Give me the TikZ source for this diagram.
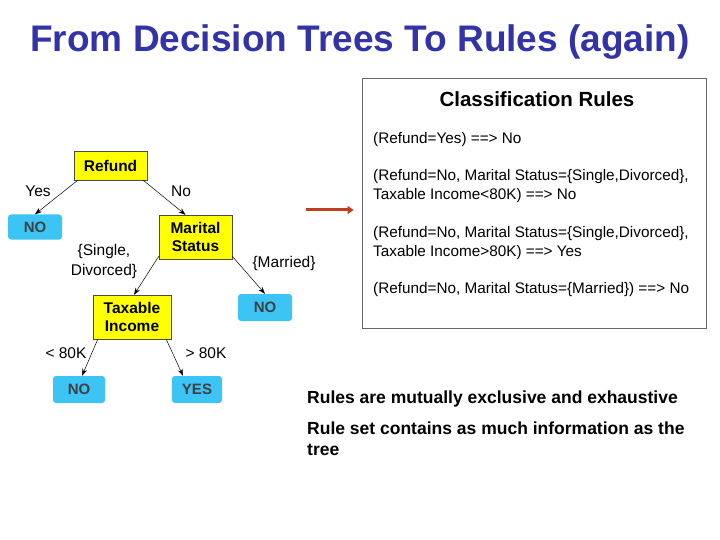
\documentclass[tikz,border=0pt]{standalone}
\usepackage{fontspec}
\setmainfont{Liberation Sans}
\usetikzlibrary{arrows.meta}
\definecolor{ttl}{HTML}{3333A8}
\definecolor{leaf}{HTML}{3CC4F4}
\definecolor{dec}{HTML}{FFFF00}
\definecolor{red1}{HTML}{C0401E}
\begin{document}
\begin{tikzpicture}[x=1pt,y=-1pt,
 decn/.style={draw=black!70,fill=dec,font=\bfseries\fontsize{15.5}{18}\selectfont,align=center,inner sep=0pt},
 leafn/.style={fill=leaf,rounded corners=3pt,font=\bfseries\fontsize{15}{16}\selectfont,text=black!75,inner sep=0pt},
 lab/.style={font=\fontsize{15.5}{20}\selectfont,align=center,inner sep=0pt},
 edge/.style={-{Stealth[length=7pt,width=5pt]},black,line width=0.5pt},
 rule/.style={font=\fontsize{15.3}{19}\selectfont,anchor=west,align=left,inner sep=0pt}]
\useasboundingbox[fill=white] (0,0) rectangle (720,540);
\node[font=\bfseries\fontsize{37}{40}\selectfont,text=ttl] (title) at (360,42) {From Decision Trees To Rules (again)};
% tree
\node[decn,minimum width=73,minimum height=29] (refund) at (110.5,165.5) {Refund};
\node[leafn,minimum width=54,minimum height=25] (no1) at (35,227) {NO};
\node[decn,minimum width=73,minimum height=44] (ms) at (195.5,237) {Marital\\Status};
\node[decn,minimum width=78,minimum height=44] (ti) at (132,317) {Taxable\\Income};
\node[leafn,minimum width=54,minimum height=27] (no2) at (265,307.5) {NO};
\node[leafn,minimum width=52,minimum height=27] (no3) at (79,389.5) {NO};
\node[leafn,minimum width=50,minimum height=27] (yes) at (197,389.5) {YES};
\draw[edge] ([xshift=4pt]refund.south west) -- (no1.north);
\draw[edge] ([xshift=-4pt]refund.south east) -- ([xshift=-10pt]ms.north);
\draw[edge] ([yshift=3pt]ms.south west) -- ([xshift=2pt]ti.north);
\draw[edge] ([yshift=3pt]ms.south east) -- (no2.north);
\draw[edge] ([xshift=5pt]ti.south west) -- ([xshift=3pt]no3.north);
\draw[edge] ([xshift=-5pt]ti.south east) -- ([xshift=-14pt]yes.north);
\node[lab] (l1) at (38,191) {Yes};
\node[lab] (l2) at (181,191) {No};
\node[lab] (l3) at (104,261.5) {\{Single,\\Divorced\}};
\node[lab] (l4) at (284,263) {\{Married\}};
\node[lab] (l5) at (66,353) {< 80K};
\node[lab] (l6) at (206,353) {> 80K};
% arrow
\coordinate (a1) at (306,210);
\node[draw=black!60,line width=0.8pt,minimum width=344,minimum height=250,inner sep=0pt] (box) at (534,203) {};
\draw[red1,line width=3pt,-{Triangle[length=6pt,width=8pt]}] (a1) -- ([xshift=-8pt]box.west |- a1);
\node[font=\bfseries\fontsize{20.5}{24}\selectfont] (ct) at (537,99) {Classification Rules};
\node[rule] (r1) at (373,140) {(Refund=Yes) ==> No};
\node[rule] (r2) at (373,186.5) {(Refund=No, Marital Status=\{Single,Divorced\},\\Taxable Income<80K) ==> No};
\node[rule] (r3) at (373,243.5) {(Refund=No, Marital Status=\{Single,Divorced\},\\Taxable Income>80K) ==> Yes};
\node[rule] (r4) at (373,290) {(Refund=No, Marital Status=\{Married\}) ==> No};
\node[font=\bfseries\fontsize{17.5}{21}\selectfont,anchor=west,inner sep=0pt] (t1) at (307,399) {Rules are mutually exclusive and exhaustive};
\node[font=\bfseries\fontsize{17.5}{21}\selectfont,anchor=north west,align=left,inner sep=0pt] (t2) at (307,422) {Rule set contains as much information as the\\tree};
\end{tikzpicture}
\end{document}
